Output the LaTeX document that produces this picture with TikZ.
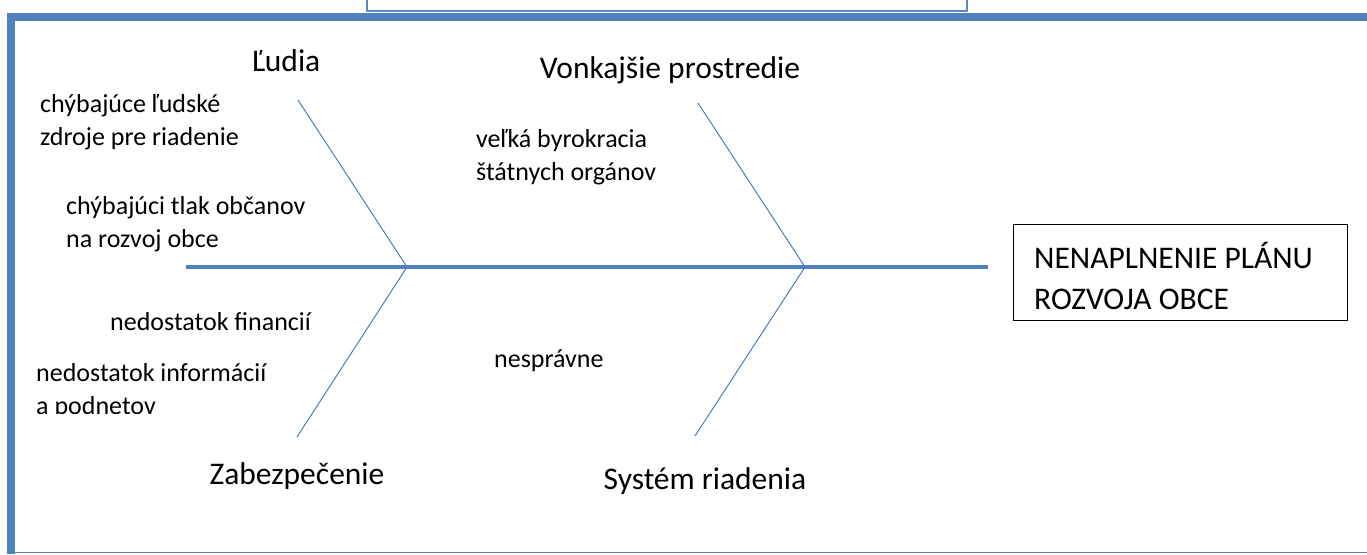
\documentclass[tikz,border=0pt]{standalone}
\usepackage{fontspec}
\setmainfont{Carlito}
\definecolor{bandblue}{HTML}{4F81BD}
\definecolor{bone}{HTML}{4A7EBB}
\definecolor{lightbl}{HTML}{5B8AC6}
\begin{document}
\begin{tikzpicture}[x=1pt,y=-1pt,
  big/.style={font=\fontsize{31.5}{41}\selectfont, inner sep=0pt, align=left},
  small/.style={font=\fontsize{26}{32.5}\selectfont, inner sep=0pt, anchor=west, align=left},
  bonel/.style={draw=bone, line width=1pt},
  spinel/.style={draw=bandblue, line width=3.5pt}]
\useasboundingbox (0,0) rectangle (1367,554);
% frame
\fill[bandblue] (7,13) rectangle (1367,21);
\fill[bandblue] (7,13) rectangle (15,554);
\draw[bandblue, line width=1.5pt] (7,552.5) -- (1367,552.5);
\draw[lightbl, line width=1.2pt] (367,-5) -- (367,11) -- (967,11) -- (967,-5);
% spine
\coordinate (s0) at (186,267);
\coordinate (j1) at (407,267);
\coordinate (j2) at (805,267);
\coordinate (s1) at (988,267);
\coordinate (t1) at (298,100);
\coordinate (t2) at (698,103);
\coordinate (b1) at (297,437);
\coordinate (b2) at (695,436);
\draw[spinel] (s0) -- (s1);
\draw[bonel] (t1) -- (j1) -- (b1);
\draw[bonel] (t2) -- (j2) -- (b2);
% head box
\node[draw=black, line width=0.8pt, minimum width=334pt, minimum height=96pt, inner sep=0pt] (head) at (1180,272) {};
\node[big, anchor=west] (headtxt) at (1034,276) {NENAPLNENIE PLÁNU\\ROZVOJA OBCE};
% category labels
\node[big] (ludia) at (286,61) {Ľudia};
\node[big] (vonk) at (670,70) {Vonkajšie prostredie};
\node[big] (zab) at (297,476) {Zabezpečenie};
\node[big] (sys) at (705,481) {Systém riadenia};
% causes
\node[small] (c1) at (40,122) {chýbajúce ľudské\\zdroje pre riadenie};
\node[small] (c2) at (66,224) {chýbajúci tlak občanov\\na rozvoj obce};
\node[small] (c3) at (110,322) {nedostatok financií};
\begin{scope}
\clip (0,340) rectangle (320,413);
\node[small] (c4) at (36,391) {nedostatok informácií\\a podnetov};
\end{scope}
\node[small] (c5) at (476,157) {veľká byrokracia\\štátnych orgánov};
\node[small] (c6) at (494,361) {nesprávne};
\end{tikzpicture}
\end{document}
